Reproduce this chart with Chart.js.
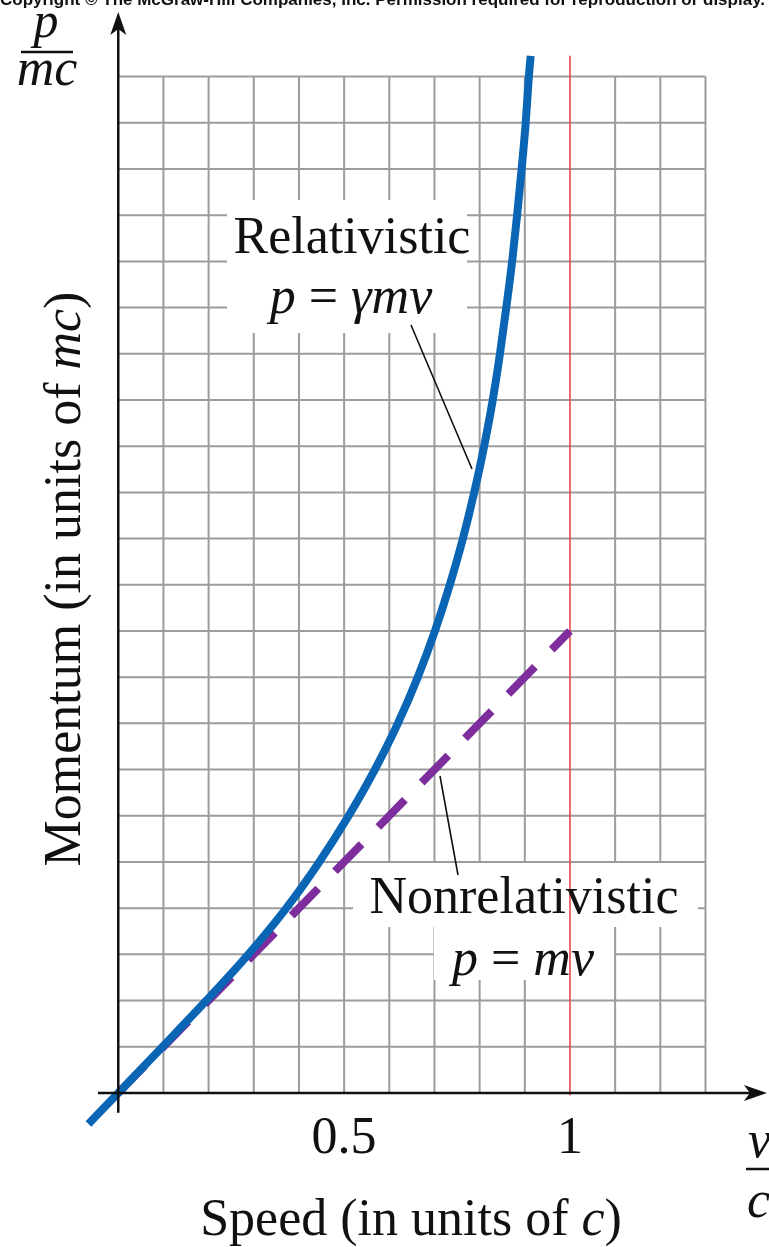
<!DOCTYPE html>
<html>
<head>
<meta charset="utf-8">
<style>
  html, body { margin: 0; padding: 0; background: #fff; }
  canvas { display: block; }
</style>
</head>
<body>
<canvas id="momentum-chart" width="769" height="1247"></canvas>
<script src="https://cdn.jsdelivr.net/npm/chart.js@4.4.1/dist/chart.umd.min.js"></script>
<script>
// values (speed in units of c, momentum in units of mc)
const relSpeed    = [-0.066, 0, 0.098, 0.195, 0.288, 0.372, 0.445, 0.51, 0.568, 0.619, 0.663, 0.701, 0.734, 0.763, 0.788, 0.81, 0.829, 0.845, 0.859, 0.872, 0.883, 0.893, 0.902, 0.909, 0.913];
const relMomentum = [-0.067, 0, 0.1, 0.2, 0.3, 0.4, 0.5, 0.6, 0.7, 0.8, 0.9, 1.0, 1.1, 1.2, 1.3, 1.4, 1.5, 1.6, 1.7, 1.8, 1.9, 2.0, 2.1, 2.2, 2.245];
const classicSpeed    = [0, 1];
const classicMomentum = [0, 1];
const lightSpeed    = [1, 1];
const lightMomentum = [-0.005, 2.245];
const tickValues = [0.5, 1];
const tickLabels = ['0.5', '1'];

const SERIF = "'Liberation Serif', 'Times New Roman', serif";
const GRID_STEP = 0.1, GRID_X_MAX = 1.3, GRID_Y_MAX = 2.2;

const toPoints = (xs, ys) => xs.map((x, i) => ({ x: x, y: ys[i] }));

// draw a line of text made of upright / italic pieces
function drawRuns(ctx, runs, x, y, size, align) {
    const fontOf = (it) => (it ? 'italic ' : '') + size + 'px ' + SERIF;
    let total = 0;
    runs.forEach(r => { ctx.font = fontOf(r[1]); total += ctx.measureText(r[0]).width; });
    let cx = align === 'center' ? x - total / 2 : x;
    ctx.textAlign = 'left';
    ctx.textBaseline = 'alphabetic';
    runs.forEach(r => {
        ctx.font = fontOf(r[1]);
        ctx.fillText(r[0], cx, y);
        cx += ctx.measureText(r[0]).width;
    });
}

function arrowHead(ctx, tipX, tipY, dx, dy) {
    // dx, dy = unit direction of the arrow
    const len = 23, half = 8, notch = 17;
    const nx = -dy, ny = dx;
    ctx.beginPath();
    ctx.moveTo(tipX, tipY);
    ctx.lineTo(tipX - dx * len + nx * half, tipY - dy * len + ny * half);
    ctx.lineTo(tipX - dx * notch, tipY - dy * notch);
    ctx.lineTo(tipX - dx * len - nx * half, tipY - dy * len - ny * half);
    ctx.closePath();
    ctx.fill();
}

const paperGrid = {
    id: 'paperGrid',
    beforeDatasetsDraw(chart) {
        const ctx = chart.ctx;
        const xs = chart.scales.x, ys = chart.scales.y;
        ctx.save();
        ctx.strokeStyle = '#9c9c9c';
        ctx.lineWidth = 2;
        ctx.beginPath();
        for (let k = 1; k <= Math.round(GRID_Y_MAX / GRID_STEP); k++) {
            const y = ys.getPixelForValue(k * GRID_STEP);
            ctx.moveTo(xs.getPixelForValue(0), y);
            ctx.lineTo(xs.getPixelForValue(GRID_X_MAX), y);
        }
        for (let k = 1; k <= Math.round(GRID_X_MAX / GRID_STEP); k++) {
            if (k === 10) continue; // the c line is drawn in red
            const x = xs.getPixelForValue(k * GRID_STEP);
            ctx.moveTo(x, ys.getPixelForValue(0));
            ctx.lineTo(x, ys.getPixelForValue(GRID_Y_MAX));
        }
        ctx.stroke();

        // white patches behind the two labels
        ctx.fillStyle = '#fff';
        ctx.fillRect(227, 200, 240, 133);
        ctx.fillRect(353, 863, 345, 64);
        ctx.fillRect(434, 926, 180, 54);
        ctx.restore();
    }
};

const annotations = {
    id: 'annotations',
    afterDatasetsDraw(chart) {
        const ctx = chart.ctx;
        const xs = chart.scales.x, ys = chart.scales.y;
        const x0 = xs.getPixelForValue(0), y0 = ys.getPixelForValue(0);
        ctx.save();

        // axes
        ctx.strokeStyle = '#111';
        ctx.fillStyle = '#111';
        ctx.lineWidth = 2.5;
        const yTip = ys.getPixelForValue(2.34);
        const xTip = xs.getPixelForValue(1.436);
        ctx.beginPath();
        ctx.moveTo(x0, ys.getPixelForValue(-0.043));
        ctx.lineTo(x0, yTip + 12);
        ctx.moveTo(xs.getPixelForValue(-0.045), y0);
        ctx.lineTo(xTip - 12, y0);
        ctx.stroke();
        arrowHead(ctx, x0, yTip, 0, -1);
        arrowHead(ctx, xTip, y0, 1, 0);

        // leader lines
        ctx.lineWidth = 1.6;
        ctx.beginPath();
        ctx.moveTo(411, 325);
        ctx.lineTo(472, 469);
        ctx.moveTo(440, 776);
        ctx.lineTo(458, 875);
        ctx.stroke();

        // labels on the plot
        drawRuns(ctx, [['Relativistic', false]], 352, 253, 52, 'center');
        drawRuns(ctx, [['p', true], [' = ', false], ['\u03b3mv', true]], 351, 313, 52, 'center');
        drawRuns(ctx, [['Nonrelativistic', false]], 524, 913, 52, 'center');
        drawRuns(ctx, [['p', true], [' = ', false], ['mv', true]], 523, 975, 52, 'center');

        // tick labels
        tickValues.forEach((v, i) => {
            drawRuns(ctx, [[tickLabels[i], false]], xs.getPixelForValue(v), 1153, 52, 'center');
        });

        // axis titles
        drawRuns(ctx, [['Speed (in units of ', false], ['c', true], [')', false]], 411, 1235, 52, 'center');
        ctx.save();
        ctx.translate(80, 579);
        ctx.rotate(-Math.PI / 2);
        drawRuns(ctx, [['Momentum (in units of ', false], ['mc', true], [')', false]], 0, 0, 52, 'center');
        ctx.restore();

        // p / mc
        drawRuns(ctx, [['p', true]], 46, 37, 50, 'center');
        drawRuns(ctx, [['mc', true]], 47, 85, 52, 'center');
        ctx.lineWidth = 2.5;
        ctx.beginPath();
        ctx.moveTo(21, 52);
        ctx.lineTo(73, 52);
        ctx.stroke();

        // v / c
        drawRuns(ctx, [['v', true]], 748, 1157, 52, 'left');
        drawRuns(ctx, [['c', true]], 747, 1217, 52, 'left');
        ctx.beginPath();
        ctx.moveTo(746, 1169);
        ctx.lineTo(769, 1169);
        ctx.stroke();

        // copyright strip, cut off at the top edge
        ctx.font = "bold 17px 'Liberation Sans', Arial, sans-serif";
        ctx.textAlign = 'left';
        ctx.textBaseline = 'alphabetic';
        ctx.fillText('Copyright \u00a9 The McGraw-Hill Companies, Inc. Permission required for reproduction or display.', 0, 5);

        ctx.restore();
    }
};

const ctx = document.getElementById('momentum-chart').getContext('2d');

const data = {
    datasets: [
        {
            label: 'Relativistic p = \u03b3mv',
            data: toPoints(relSpeed, relMomentum),
            borderColor: '#0a66b5',
            borderWidth: 8,
            cubicInterpolationMode: 'monotone',
            showLine: true,
            pointRadius: 0,
            order: 0,
        },
        {
            label: 'Nonrelativistic p = mv',
            data: toPoints(classicSpeed, classicMomentum),
            borderColor: '#7e2e9c',
            borderWidth: 8,
            borderDash: [38, 24],
            showLine: true,
            pointRadius: 0,
            order: 1,
        },
        {
            label: 'v = c',
            data: toPoints(lightSpeed, lightMomentum),
            borderColor: '#e5474f',
            borderWidth: 1.6,
            showLine: true,
            pointRadius: 0,
            order: 2,
        },
    ]
};

const config = {
    type: 'scatter',
    data: data,
    options: {
        responsive: false,
        animation: false,
        layout: {
            padding: { left: 73.1, right: 4.8, top: 7.3, bottom: 98.6 }
        },
        scales: {
            x: { type: 'linear', min: -0.1, max: 1.43, display: false },
            y: { type: 'linear', min: -0.12, max: 2.35, display: false },
        },
        plugins: {
            legend: { display: false },
            tooltip: { enabled: false },
        },
    },
    plugins: [paperGrid, annotations],
};

const momentumChart = new Chart(ctx, config);
</script>
</body>
</html>
